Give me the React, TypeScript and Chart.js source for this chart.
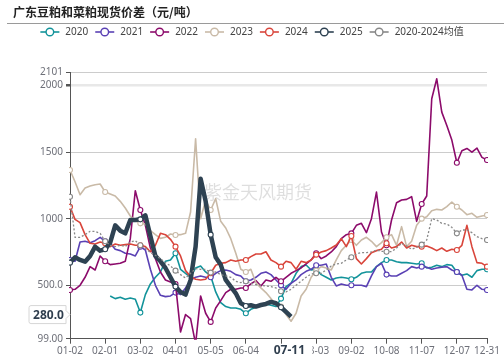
import React, { useEffect, useRef } from 'react';
import { Chart, registerables } from 'chart.js';
Chart.register(...registerables);

const TITLE = '广东豆粕和菜粕现货价差（元/吨）';
const WATERMARK = '紫金天风期货';
const FONT = '"Noto Sans", "Noto Sans CJK SC", sans-serif';
const CJK = '"Noto Sans CJK SC", "Noto Sans", sans-serif';

// x-axis tick labels and their category positions
const tickDates = ['01-02', '02-01', '03-02', '04-01', '05-05', '06-04', '07-04', '08-03', '09-02', '10-08', '11-07', '12-07', '12-31'];
const tickIndex = [0, 21, 42, 63, 84, 105, 126, 147, 168, 189, 210, 231, 249];
const yTicks = [99, 500, 1000, 1500, 2000, 2101];
const Y_MIN = 99;
const Y_MAX = 2101;
const pointerDate = '07-11';
const pointerValue = 280;
const STEP = 3; // values below are read every 3rd category

const v2020 = [null, null, null, null, null, null, null, null,
  420, 400, 410, 395, 405, 395, 295, 430, 510, 560, 600, 680, 690, 740, 620, 590, 560, 630, 645, 600, 570, 450, 370, 340, 330, 330, 320, 290, 320, 335, 355, 360, 350, 340, 400, 490, 515, 590, 640, 652, 615, 620, 580, 560, 540, 555, 560, 555, 545, 560, 590, 600, 600, 640, 670, 690, 690, 677, 670, 670, 665, 660, 665, 630, 635, 650, 640, 655, 650, 600, 575, 585, 560, 610, 620, 620];
const v2021 = [690, 680, 825, 830, 820, 835, 860, 830, 815, 770, 760, 740, 735, 720, 790, 765, 620, 500, 425, 415, 420, 445, 430, 480, 540, 560, 570, 560, 560, 590, 610, 615, 605, 580, 570, 530, 540, 560, 590, 600, 580, 540, 500, 470, 515, 540, 580, 605, 620, 650, 650, 660, 560, 495, 510, 500, 500, 500, 500, 490, 570, 640, 665, 580, 570, 570, 590, 610, 640, 630, 640, 635, 620, 630, 635, 640, 615, 600, 575, 470, 465, 500, 470, 465];
const v2022 = [465, 470, 500, 560, 640, 615, 720, 680, 655, 660, 665, 680, 850, 1210, 1065, 950, 780, 700, 600, 540, 525, 510, 150, 280, 250, 60, 420, 290, 225, 330, 385, 445, 470, 470, 480, 480, 510, 535, 495, 540, 530, 560, 530, 560, 590, 610, 630, 660, 690, 740, 700, 720, 750, 790, 850, 880, 890, 950, 965, 895, 1000, 1200, 900, 800, 990, 1120, 1140, 1145, 1165, 980, 1110, 1170, 1900, 2050, 1800, 1700, 1590, 1420, 1510, 1527, 1500, 1530, 1460, 1440];
const v2023 = [1365, 1277, 1180, 1230, 1245, 1255, 1260, 1200, 1185, 1170, 1130, 1080, 1020, 985, 965, 960, 910, 880, 852, 860, 885, 877, 880, 890, 1050, 1600, 1000, 1140, 1065, 1150, 980, 930, 850, 740, 620, 600, 620, 520, 480, 445, 400, 360, 340, 280, 230, 290, 420, 470, 560, 610, 640, 630, 615, 690, 760, 800, 840, 800, 840, 860, 830, 790, 820, 860, 880, 800, 940, 790, 830, 950, 1000, 1015, 1060, 1070, 1065, 1090, 1125, 1090, 1065, 1030, 1040, 1010, 1020, 1027];
const v2024 = [1090, 995, 970, 880, 815, 810, 825, 815, 790, 810, 800, 805, 810, 800, 800, 790, 752, 800, 890, 880, 845, 790, 720, 610, 565, 545, 540, 545, 590, 650, 665, 670, 690, 680, 690, 690, 715, 735, 735, 752, 690, 670, 640, 680, 670, 620, 680, 670, 690, 730, 750, 760, 780, 802, 850, 790, 870, 700, 660, 700, 745, 760, 770, 815, 780, 790, 825, 780, 800, 790, 790, 795, 780, 760, 780, 755, 770, 765, 800, 950, 790, 670, 665, 640];
const v2025 = [670, 710, 690, 677, 720, 790, 760, 770, 820, 950, 910, 890, 990, 990, 995, 1025, 870, 720, 680, 630, 560, 490, 450, 430, 540, 790, 1300, 1130, 880, 710, 655, 540, 490, 440, 365, 345, 350, 340, 352, 360, 375, 365, 335, 300, 265];
const vAvg = [1165, 860, 860, 880, 905, 905, 890, 830, 800, 790, 800, 790, 825, 835, 800, 780, 745, 725, 700, 670, 645, 610, 580, 555, 590, 625, 620, 620, 595, 600, 580, 570, 560, 530, 520, 530, 515, 505, 500, 495, 490, 480, 455, 450, 470, 500, 530, 560, 585, 590, 590, 615, 645, 660, 665, 690, 710, 735, 745, 745, 750, 765, 755, 752, 752, 780, 815, 795, 770, 785, 805, 840, 1000, 990, 965, 960, 935, 890, 915, 915, 895, 865, 850, 840];

const seriesNames = ['2020', '2021', '2022', '2023', '2024', '2025', '2020-2024均值'];
const seriesValues = [v2020, v2021, v2022, v2023, v2024, v2025, vAvg];
const seriesColors = ['#12939a', '#5a41b4', '#8c0b6b', '#c9baa7', '#d9453b', '#2e4252', '#888888'];

function buildCategories(): string[] {
  const out: string[] = [];
  const DAY = 86400000;
  const toDay = (s: string) => {
    const [m, d] = s.split('-').map(Number);
    return Date.UTC(2023, m - 1, d);
  };
  for (let s = 0; s < tickDates.length - 1; s++) {
    const a = toDay(tickDates[s]);
    const b = toDay(tickDates[s + 1]);
    const n = tickIndex[s + 1] - tickIndex[s];
    const days = (b - a) / DAY;
    for (let k = 0; k < n; k++) {
      const dt = new Date(a + Math.round((days * k) / n) * DAY);
      out.push(String(dt.getUTCMonth() + 1).padStart(2, '0') + '-' + String(dt.getUTCDate()).padStart(2, '0'));
    }
  }
  out.push(tickDates[tickDates.length - 1]);
  return out;
}

const categories = buildCategories();

function expand(vals: (number | null)[]): (number | null)[] {
  const out: (number | null)[] = new Array(categories.length).fill(null);
  vals.forEach((v, j) => {
    out[j * STEP] = v;
  });
  return out;
}

const decorPlugin = {
  id: 'decor',
  beforeDatasetsDraw(chart: any) {
    const { ctx } = chart;
    ctx.save();
    ctx.font = '18px ' + CJK;
    ctx.fillStyle = 'rgba(0,0,0,0.13)';
    ctx.textAlign = 'center';
    ctx.textBaseline = 'middle';
    ctx.fillText(WATERMARK, 258, 192);
    ctx.restore();
  },
  afterDraw(chart: any) {
    const { ctx } = chart;
    ctx.save();
    // title
    ctx.font = 'bold 12px ' + CJK;
    ctx.fillStyle = '#222';
    ctx.textAlign = 'left';
    ctx.textBaseline = 'middle';
    ctx.fillText(TITLE, 13, 12.5);
    // separator
    ctx.strokeStyle = '#9a9a9a';
    ctx.lineWidth = 1;
    ctx.beginPath();
    ctx.moveTo(7, 23.5);
    ctx.lineTo(504, 23.5);
    ctx.stroke();
    // legend
    ctx.font = '10px ' + FONT;
    const iconW = 19, textGap = 6, itemGap = 7;
    const widths = seriesNames.map((n) => ctx.measureText(n).width);
    const total = widths.reduce((a, w) => a + iconW + textGap + w, 0) + itemGap * (seriesNames.length - 1);
    let x = (504 - total) / 2;
    const ly = 32;
    seriesNames.forEach((n, i) => {
      const c = seriesColors[i];
      ctx.strokeStyle = c;
      ctx.lineWidth = 1.6;
      ctx.beginPath();
      ctx.moveTo(x, ly);
      ctx.lineTo(x + iconW, ly);
      ctx.stroke();
      ctx.beginPath();
      ctx.arc(x + iconW / 2, ly, 3.8, 0, Math.PI * 2);
      ctx.fillStyle = '#fff';
      ctx.fill();
      ctx.lineWidth = 1.4;
      ctx.stroke();
      ctx.fillStyle = '#444';
      ctx.textBaseline = 'middle';
      ctx.fillText(n, x + iconW + textGap, ly + 0.5);
      x += iconW + textGap + widths[i] + itemGap;
    });
    // axis pointer labels
    const xs = chart.scales.x;
    const ys = chart.scales.y;
    const pIdx = categories.indexOf(pointerDate);
    const px = xs.getPixelForValue(pIdx);
    const py = ys.getPixelForValue(pointerValue);
    ctx.fillStyle = '#fff';
    ctx.fillRect(px - 23, 344.5, 46, 13.5);
    ctx.font = 'bold 12px ' + FONT;
    ctx.fillStyle = '#2f3e4e';
    ctx.textAlign = 'center';
    ctx.fillText(pointerDate, px, 350.8);

    const l = 29, r = 66, top = py - 9, bot = py + 9, rad = 2;
    ctx.beginPath();
    ctx.moveTo(l + rad, top);
    ctx.lineTo(r, top);
    ctx.lineTo(r, py - 4);
    ctx.lineTo(r + 4, py);
    ctx.lineTo(r, py + 4);
    ctx.lineTo(r, bot);
    ctx.lineTo(l + rad, bot);
    ctx.arcTo(l, bot, l, bot - rad, rad);
    ctx.lineTo(l, top + rad);
    ctx.arcTo(l, top, l + rad, top, rad);
    ctx.closePath();
    ctx.fillStyle = '#fff';
    ctx.fill();
    ctx.strokeStyle = '#d6d6d6';
    ctx.lineWidth = 1;
    ctx.stroke();
    ctx.fillStyle = '#2f3e4e';
    ctx.fillText(pointerValue.toFixed(1), 48.5, py + 0.5);
    ctx.restore();
  },
};

export default function App() {
  const ref = useRef<HTMLCanvasElement>(null);
  useEffect(() => {
    document.body.style.margin = '0';
    const canvas = ref.current;
    if (!canvas) return;
    const radius = (c: any) => (c.dataIndex % 21 === 0 || c.dataIndex === categories.length - 1 ? 2.5 : 0);
    const datasets = seriesNames.map((name, i) => ({
      label: name,
      data: expand(seriesValues[i]),
      borderColor: seriesColors[i],
      backgroundColor: '#fff',
      borderWidth: i === 5 ? 4.5 : i === 6 ? 1.3 : 1.6,
      borderDash: i === 6 ? [2, 2] : [],
      borderJoinStyle: 'round' as const,
      pointRadius: radius,
      pointHoverRadius: 0,
      pointBorderColor: seriesColors[i],
      pointBackgroundColor: '#fff',
      pointBorderWidth: 1.1,
      tension: 0,
      spanGaps: true,
      fill: false,
      order: seriesNames.length - i,
      clip: 1,
    }));
    const chart = new Chart(canvas, {
      type: 'line',
      data: { labels: categories, datasets },
      options: {
        responsive: false,
        animation: false,
        events: [],
        layout: { padding: { left: 0, right: 17, top: 72, bottom: 0 } },
        plugins: { legend: { display: false }, tooltip: { enabled: false }, title: { display: false } },
        scales: {
          x: {
            type: 'category',
            offset: false,
            grid: { drawOnChartArea: false, drawTicks: true, tickLength: 5, tickColor: '#555', offset: false },
            border: { display: true, color: '#555', width: 1 },
            ticks: { autoSkip: false, maxRotation: 0, minRotation: 0, padding: 1, color: '#6e7079', font: { size: 10, family: FONT } },
            afterBuildTicks: (s: any) => {
              s.ticks = tickIndex.map((v) => ({ value: v }));
            },
            afterFit: (s: any) => {
              s.height = 19.3;
            },
          },
          y: {
            type: 'linear',
            min: Y_MIN,
            max: Y_MAX,
            afterBuildTicks: (s: any) => {
              s.ticks = yTicks.map((v) => ({ value: v }));
            },
            afterFit: (s: any) => {
              s.width = 70;
            },
            ticks: {
              padding: 3,
              color: '#6e7079',
              font: { size: 10, family: FONT },
              callback: (v: any) => Number(v).toPrecision(4),
            },
            grid: {
              color: (c: any) => (c.tick && c.tick.value === 2000 ? '#e8e8e8' : c.tick && c.tick.value === Y_MIN ? 'rgba(0,0,0,0)' : '#cccccc'),
              lineWidth: (c: any) => (c.tick && c.tick.value === 2000 ? 2.5 : 1),
              drawTicks: true,
              tickLength: 4,
              tickColor: '#555',
            },
            border: { display: true, color: '#555', width: 1 },
          },
        },
      },
      plugins: [decorPlugin],
    } as any);
    return () => chart.destroy();
  }, []);
  return (
    <div style={{ width: 504, height: 358 }}>
      <canvas ref={ref} width={504} height={358} style={{ display: 'block', width: 504, height: 358 }} />
    </div>
  );
}
